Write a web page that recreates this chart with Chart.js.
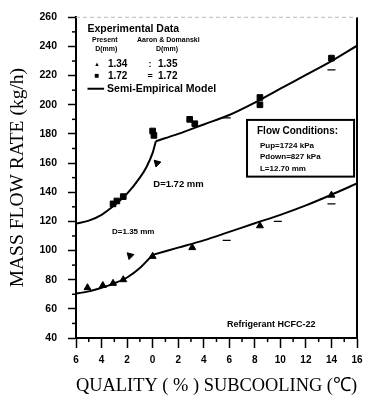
<!DOCTYPE html>
<html>
<head>
<meta charset="utf-8">
<script src="https://cdn.jsdelivr.net/npm/chart.js@4.4.1/dist/chart.umd.min.js"></script>
<style>
  html, body { margin: 0; padding: 0; background: #fff; }
  #wrap { width: 375px; height: 404px; }
</style>
</head>
<body>
<div id="wrap"><canvas id="flowChart" width="375" height="404"></canvas></div>
<script>
// x: negative = quality (%), positive = subcooling (C)
const xTicks = [-6, -4, -2, 0, 2, 4, 6, 8, 10, 12, 14, 16];
const yTicks = [40, 60, 80, 100, 120, 140, 160, 180, 200, 220, 240, 260];

// present data, D = 1.34 mm (filled triangles)
const p134X = [-5.1, -3.9, -3.1, -2.3, 0.0, 3.1, 8.4, 14.0];
const p134Y = [74.5, 76.0, 77.5, 80.0, 96.0, 102.0, 117.0, 138.0];

// present data, D = 1.72 mm (filled squares)
const p172X = [-3.1, -2.8, -2.3, 0.0, 0.1, 2.9, 3.3, 8.4, 8.4, 14.0];
const p172Y = [132.0, 134.0, 137.0, 182.0, 179.0, 190.0, 187.0, 205.0, 200.0, 232.0];

// Aaron & Domanski data
const a135X = [5.8, 9.8, 14.0];
const a135Y = [107.0, 120.0, 132.0];
const a172X = [5.8, 14.0];
const a172Y = [191.0, 224.0];

// semi-empirical model, two-phase branch (left) and subcooled branch (right)
const m172LeftX = [-6, -5, -4, -3, -2, -1, -0.5, 0, 0.25];
const m172LeftY = [118.5, 120.5, 124.5, 131.0, 139.0, 150.0, 157.0, 167.0, 175.0];
const m172RightX = [0.25, 2, 4, 6, 8, 10, 12, 14, 16];
const m172RightY = [175.0, 180.0, 186.5, 193.0, 201.5, 211.0, 220.5, 230.0, 240.5];
const m135LeftX = [-6, -5, -4, -3, -2, -1, 0];
const m135LeftY = [70.5, 72.0, 74.5, 77.5, 81.5, 88.0, 97.0];
const m135RightX = [0, 2, 4, 6, 8, 10, 12, 14, 16];
const m135RightY = [97.0, 102.0, 107.0, 112.8, 118.7, 124.5, 131.0, 138.3, 146.0];

// pointer arrows to the two curves
const arrowX = [0.34, -1.77];
const arrowY = [160.0, 96.5];

const toPoints = (xs, ys) => xs.map((x, i) => ({ x: x, y: ys[i] }));

const SANS = '"Liberation Sans", Arial, sans-serif';
const SERIF = '"Liberation Serif", "Times New Roman", serif';

// frame, minor ticks and all the text inside the plot
const decorPlugin = {
    id: 'decor',
    afterDraw(chart) {
        const ctx = chart.ctx;
        const a = chart.chartArea;
        const xs = chart.scales.x;
        const ys = chart.scales.y;
        const px = u => xs.getPixelForValue(u);
        const py = v => ys.getPixelForValue(v);

        ctx.save();
        // right border heavy, top border faint
        ctx.strokeStyle = '#000';
        ctx.lineWidth = 2;
        ctx.beginPath();
        ctx.moveTo(a.right, a.top);
        ctx.lineTo(a.right, a.bottom);
        ctx.stroke();
        ctx.strokeStyle = '#bbb';
        ctx.lineWidth = 1;
        ctx.setLineDash([4, 3]);
        ctx.beginPath();
        ctx.moveTo(a.left, a.top);
        ctx.lineTo(a.right, a.top);
        ctx.stroke();
        ctx.setLineDash([]);

        // minor ticks
        ctx.strokeStyle = '#000';
        ctx.lineWidth = 1.5;
        for (let u = -5; u <= 15; u += 2) {
            ctx.beginPath();
            ctx.moveTo(px(u), a.bottom);
            ctx.lineTo(px(u), a.bottom + 4);
            ctx.stroke();
        }
        for (let v = 50; v <= 250; v += 20) {
            ctx.beginPath();
            ctx.moveTo(a.left, py(v));
            ctx.lineTo(a.left - 4, py(v));
            ctx.stroke();
        }

        const text = (s, u, v, font, align) => {
            ctx.font = font;
            ctx.textAlign = align || 'left';
            ctx.textBaseline = 'middle';
            ctx.fillStyle = '#000';
            ctx.fillText(s, px(u), py(v));
        };

        // legend block
        text('Experimental Data', -5.1, 252, 'bold 10.5px ' + SANS);
        text('Present', -4.75, 244.6, 'bold 7px ' + SANS);
        text('Aaron & Domanski', -1.22, 244.6, 'bold 7px ' + SANS);
        text('D(mm)', -4.5, 237.9, 'bold 7px ' + SANS);
        text('D(mm)', 0.26, 237.9, 'bold 7px ' + SANS);
        text('\u25B2', -4.36, 227.8, 'bold 6px ' + SANS, 'center');
        text('1.34', -3.5, 227.8, 'bold 10px ' + SANS);
        text(':', -0.2, 227.8, 'bold 9px ' + SANS, 'center');
        text('1.35', 0.42, 227.8, 'bold 10px ' + SANS);
        text('\u25A0', -4.36, 219.7, 'bold 8px ' + SANS, 'center');
        text('1.72', -3.5, 219.7, 'bold 10px ' + SANS);
        text('=', -0.2, 219.7, 'bold 9px ' + SANS, 'center');
        text('1.72', 0.42, 219.7, 'bold 10px ' + SANS);
        ctx.lineWidth = 2;
        ctx.beginPath();
        ctx.moveTo(px(-5.1), py(211));
        ctx.lineTo(px(-3.8), py(211));
        ctx.stroke();
        text('Semi-Empirical Model', -3.57, 211, 'bold 10.5px ' + SANS);

        // flow conditions box
        ctx.lineWidth = 2;
        ctx.strokeRect(px(7.39), py(189.6), px(15.77) - px(7.39), py(150.7) - py(189.6));
        text('Flow Conditions:', 8.17, 181.5, 'bold 10px ' + SANS);
        text('Pup=1724 kPa', 8.4, 172.1, 'bold 8px ' + SANS);
        text('Pdown=827 kPa', 8.4, 164.1, 'bold 8px ' + SANS);
        text('L=12.70 mm', 8.4, 156.0, 'bold 8px ' + SANS);

        // curve labels
        text('D=1.72 mm', 0.05, 145.5, 'bold 9.5px ' + SANS);
        text('D=1.35 mm', -3.18, 113.1, 'bold 8px ' + SANS);
        text('Refrigerant HCFC-22', 5.82, 49.4, 'bold 9px ' + SANS);
        ctx.restore();
    }
};

const markerBase = { showLine: false, borderColor: '#000', backgroundColor: '#000' };
const modelLine = (label, xs, ys) => ({
    label: label, data: toPoints(xs, ys), showLine: true,
    borderColor: '#000', borderWidth: 2, pointRadius: 0, cubicInterpolationMode: 'monotone'
});

new Chart(document.getElementById('flowChart'), {
    type: 'scatter',
    data: {
        datasets: [
            Object.assign({ label: 'Present 1.34', data: toPoints(p134X, p134Y), pointStyle: 'triangle', pointRadius: 4, borderWidth: 1 }, markerBase),
            Object.assign({ label: 'Present 1.72', data: toPoints(p172X, p172Y), pointStyle: 'rect', pointRadius: 4, borderWidth: 1 }, markerBase),
            Object.assign({ label: 'Aaron 1.35', data: toPoints(a135X, a135Y), pointStyle: 'line', pointRadius: 4, borderWidth: 1.2 }, markerBase),
            Object.assign({ label: 'Aaron 1.72', data: toPoints(a172X, a172Y), pointStyle: 'line', pointRadius: 4, borderWidth: 1.2 }, markerBase),
            Object.assign({ label: 'arrows', data: toPoints(arrowX, arrowY), pointStyle: 'triangle', pointRadius: 4, rotation: -45, borderWidth: 1 }, markerBase),
            modelLine('Model 1.72 quality', m172LeftX, m172LeftY),
            modelLine('Model 1.72 subcooling', m172RightX, m172RightY),
            modelLine('Model 1.35 quality', m135LeftX, m135LeftY),
            modelLine('Model 1.35 subcooling', m135RightX, m135RightY)
        ]
    },
    options: {
        responsive: false,
        animation: false,
        events: [],
        layout: { padding: { top: 10, right: 18, left: 0, bottom: 0 } },
        plugins: { legend: { display: false }, tooltip: { enabled: false } },
        scales: {
            x: {
                type: 'linear', min: -6, max: 16,
                afterFit: s => { s.height = 66; },
                afterBuildTicks: s => { s.ticks = xTicks.map(v => ({ value: v })); },
                ticks: {
                    color: '#000', padding: 6, maxRotation: 0, autoSkip: false,
                    font: { family: SANS, size: 10, weight: 'bold' },
                    callback: v => String(Math.abs(v))
                },
                grid: { drawOnChartArea: false, tickLength: 10, tickColor: '#000', tickWidth: 1.5 },
                border: { color: '#000', width: 2 },
                title: {
                    display: true, text: 'QUALITY ( % ) SUBCOOLING (\u2103)', color: '#000',
                    font: { family: SERIF, size: 19.5 }, padding: { top: 0, bottom: 6 }
                }
            },
            y: {
                type: 'linear', min: 40, max: 260,
                afterFit: s => { s.width = 76; },
                afterBuildTicks: s => { s.ticks = yTicks.map(v => ({ value: v })); },
                ticks: {
                    color: '#000', padding: 11,
                    font: { family: SANS, size: 10.5, weight: 'bold' }
                },
                grid: { drawOnChartArea: false, tickLength: 8, tickColor: '#000', tickWidth: 1.5 },
                border: { color: '#000', width: 2 },
                title: {
                    display: true, text: 'MASS FLOW RATE (kg/h)', color: '#000',
                    font: { family: SERIF, size: 19.5 }, padding: { top: 6, bottom: 0 }
                }
            }
        }
    },
    plugins: [decorPlugin]
});
</script>
</body>
</html>
